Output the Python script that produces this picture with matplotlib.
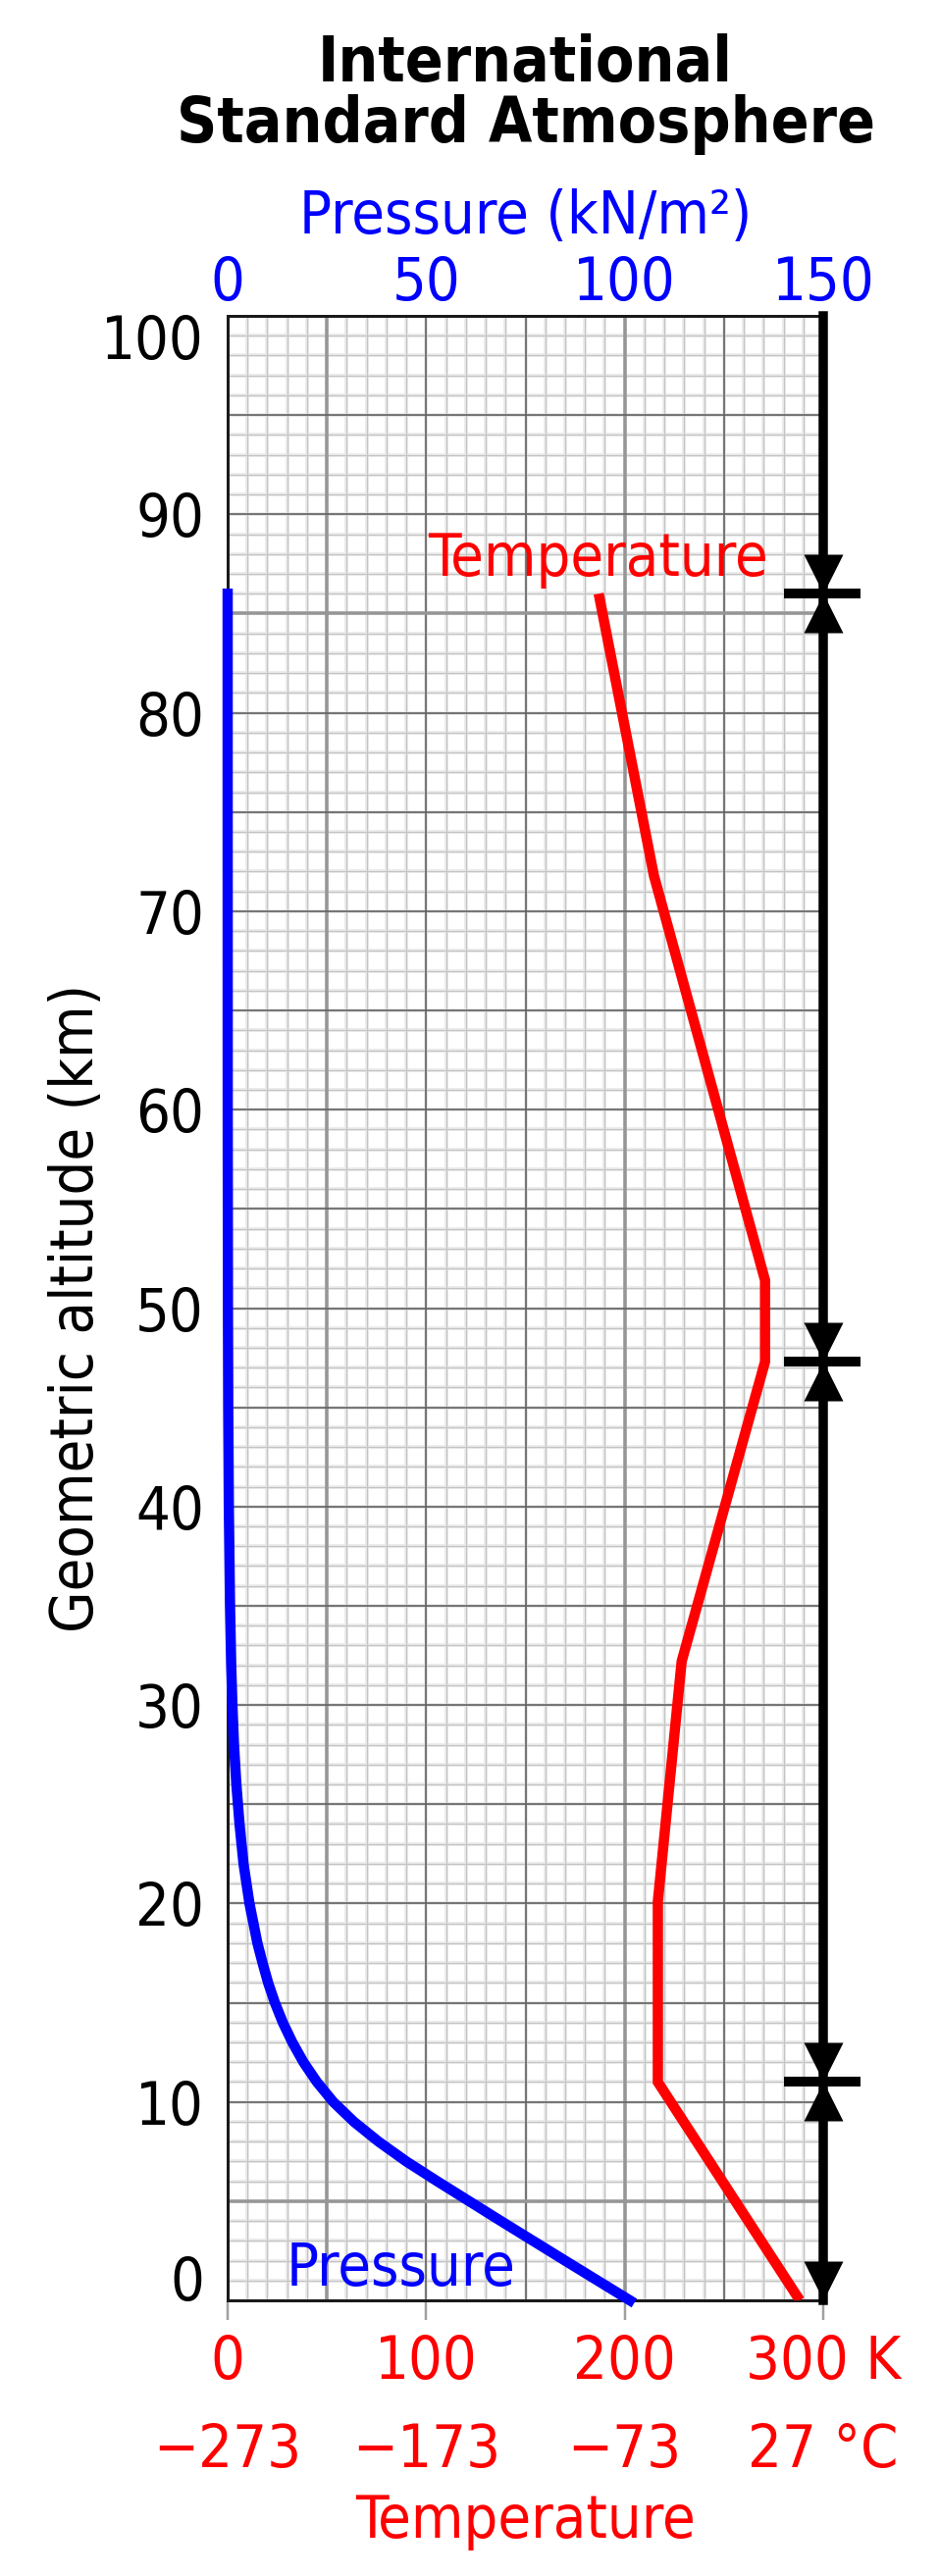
import numpy as np
import matplotlib
matplotlib.use("Agg")
import matplotlib.pyplot as plt
from matplotlib import font_manager as fm
from matplotlib.transforms import ScaledTranslation

# temperature profile (altitude km, temperature K)
temp_alt = [0, 11.0, 20.1, 32.2, 47.3, 51.4, 71.8, 86.0]
temp_k = [288.2, 216.7, 216.7, 228.7, 270.7, 270.7, 214.7, 186.9]

# pressure profile as drawn (altitude km, kN/m2)
press_alt = [0, 2, 4, 6, 7, 8, 9, 10, 11, 12, 13, 14, 15, 16, 17, 18,
             20, 22, 24, 26, 28, 30, 32, 35, 40, 45, 50, 60, 70, 80, 86]
press_kn = [101.3, 85.0, 68.8, 52.8, 45.0, 38.0, 31.8, 26.6, 22.5, 19.1, 16.3,
            13.9, 11.9, 10.2, 8.8, 7.5, 5.5, 4.0, 3.0, 2.2,
            1.6, 1.2, 0.9, 0.6, 0.3, 0.15, 0.08, 0.02, 0.01, 0.0, 0.0]

# layer boundaries (km)
layer_tops = [11.0, 47.3, 86.0]

alt_ticks = list(range(0, 101, 10))
press_ticks = [0, 50, 100, 150]
kelvin_ticks = [0, 100, 200, 300]
kelvin_labels = ["0", "100", "200", "300 K"]
celsius_labels = ["\u2212273", "\u2212173", "\u221273", "27 \u00b0C"]

PX = 0.72  # points per pixel at dpi 100
BLUE = "#0000ff"
RED = "#ff0000"

cond_path = fm.findfont(fm.FontProperties(family="DejaVu Sans", stretch="condensed"))
plt.rcParams["font.family"] = "DejaVu Sans"
if "Condensed" in cond_path:
    plt.rcParams["font.stretch"] = "condensed"
    fs, fs_title = 44, 46
else:
    fs, fs_title = 40, 41.5

fig = plt.figure(figsize=(9.57, 26.26), dpi=100)
ax = fig.add_axes([232 / 957, 1 - 2345 / 2626, 607 / 957, 2023 / 2626])
ax.set_xlim(0, 300)
ax.set_ylim(0, 100)

# graph paper grid
for k in range(0, 301, 10):
    ax.axvline(k, color="#ececec", lw=4 * PX, zorder=0.1)
    ax.axvline(k, color="#c4c4c4", lw=1.2 * PX, zorder=0.2)
for h in range(0, 101, 1):
    ax.axhline(h, color="#ececec", lw=4 * PX, zorder=0.1)
    ax.axhline(h, color="#c4c4c4", lw=1.2 * PX, zorder=0.2)
for k in range(50, 300, 50):
    if k in (50, 200):
        ax.axvline(k, color="#969696", lw=3.5 * PX, zorder=0.3)
    else:
        ax.axvline(k, color="#606060", lw=1.6 * PX, zorder=0.3)
for h in range(5, 100, 5):
    if h in (5, 85):
        ax.axhline(h, color="#969696", lw=3.5 * PX, zorder=0.3)
    else:
        ax.axhline(h, color="#606060", lw=1.6 * PX, zorder=0.3)

# temperature
ax.plot(temp_k, temp_alt, color=RED, lw=10.5 * PX, solid_capstyle="butt",
        solid_joinstyle="miter", zorder=3)
ax.text(100.8, 86.9, "Temperature", color=RED, fontsize=fs, ha="left",
        va="baseline", zorder=4)
ax.text(29.7, 0.74, "Pressure", color=BLUE, fontsize=fs, ha="left",
        va="baseline", zorder=4)

# layer bar on the right
ax.axvline(300, color="black", lw=9.5 * PX, clip_on=False, zorder=5)
for h in layer_tops:
    ax.plot([280.2, 318.8], [h, h], color="black", lw=10 * PX,
            solid_capstyle="butt", clip_on=False, zorder=6)
down_tri = [(0, 0), (-1, 2), (1, 2), (0, 0)]
up_tri = [(0, 0), (-1, -2), (1, -2), (0, 0)]
ax.plot([300] * (len(layer_tops) + 1), layer_tops + [0], ls="none",
        marker=down_tri, ms=80 * PX, color="black", mew=0, clip_on=False, zorder=6)
ax.plot([300] * len(layer_tops), layer_tops, ls="none",
        marker=up_tri, ms=80 * PX, color="black", mew=0, clip_on=False, zorder=6)

for side in ("top", "left", "bottom"):
    ax.spines[side].set_color("#1a1a1a")
    ax.spines[side].set_linewidth(3 * PX)
ax.spines["right"].set_visible(False)

# altitude ticks
ax.set_yticks(alt_ticks, labels=[str(a) for a in alt_ticks])
ax.tick_params(axis="y", length=0, pad=24 * PX, labelsize=fs, labelcolor="black")
ylabels = ax.get_yticklabels()
ylabels[0].set_transform(ylabels[0].get_transform() +
                         ScaledTranslation(0, 0.23, fig.dpi_scale_trans))
ylabels[-1].set_transform(ylabels[-1].get_transform() +
                          ScaledTranslation(0, -0.21, fig.dpi_scale_trans))
ax.set_ylabel("Geometric altitude (km)", fontsize=fs)
ax.yaxis.set_label_coords(-0.205, 0.5)

# temperature ticks
ax.set_xticks(kelvin_ticks,
              labels=[f"{k}\n{c}" for k, c in zip(kelvin_labels, celsius_labels)])
ax.tick_params(axis="x", length=20 * PX, width=2.5 * PX, color="#a0a0a0",
               pad=14 * PX, labelsize=fs, labelcolor=RED)
ax.xaxis.get_major_ticks()[0].tick1line.set_visible(False)
for lab in ax.get_xticklabels():
    lab.set_linespacing(1.68)
ax.set_xlabel("Temperature", color=RED, fontsize=fs)
ax.xaxis.set_label_coords(0.5, -0.0969)

# pressure axis
ax_p = ax.twiny()
ax_p.set_xlim(0, 150)
ax_p.plot(press_kn, press_alt, color=BLUE, lw=10.5 * PX, clip_on=False, zorder=3)
ax_p.set_xticks(press_ticks)
ax_p.tick_params(axis="x", length=0, pad=3 * PX, labelsize=fs, labelcolor=BLUE)
for s in ax_p.spines.values():
    s.set_visible(False)
ax_p.set_xlabel("Pressure (kN/m\u00b2)", color=BLUE, fontsize=fs)
ax_p.xaxis.set_label_coords(0.5, 1.0417)

fig.text(535.5 / 957, 1 - 83 / 2626, "International", ha="center", va="baseline",
         fontsize=fs_title, fontweight="bold")
fig.text(535.5 / 957, 1 - 145 / 2626, "Standard Atmosphere", ha="center",
         va="baseline", fontsize=fs_title, fontweight="bold")

fig.savefig("out.png", dpi=100)
